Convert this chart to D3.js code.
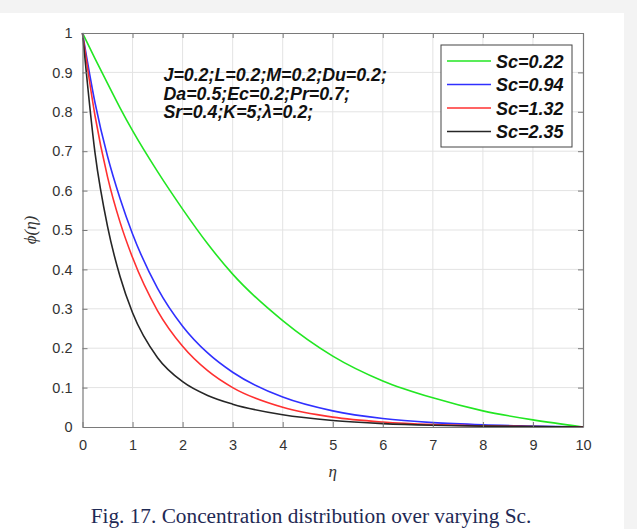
<!DOCTYPE html>
<html>
<head>
<meta charset="utf-8">
<script src="https://cdn.jsdelivr.net/npm/d3@7"></script>
<style>
  body { margin: 0; background: #ffffff; }
  text { font-family: "Liberation Sans", Arial, sans-serif; }
</style>
</head>
<body>
<div id="canvas"></div>
<script>
// values
const eta = [0, 0.25, 0.5, 0.75, 1, 1.5, 2, 2.5, 3, 4, 5, 6, 7, 8, 9, 10];
const sc022 = [1, 0.935, 0.872, 0.81, 0.752, 0.648, 0.553, 0.465, 0.388, 0.27, 0.18, 0.117, 0.074, 0.041, 0.018, 0];
const sc094 = [1, 0.823, 0.687, 0.58, 0.49, 0.352, 0.256, 0.188, 0.139, 0.076, 0.041, 0.0214, 0.011, 0.0055, 0.0025, 0];
const sc132 = [1, 0.79, 0.635, 0.52, 0.43, 0.295, 0.205, 0.143, 0.10, 0.05, 0.025, 0.0125, 0.006, 0.003, 0.0013, 0];
const sc235 = [1, 0.696, 0.509, 0.382, 0.29, 0.176, 0.115, 0.08, 0.058, 0.031, 0.0165, 0.0086, 0.0043, 0.0021, 0.001, 0];
const seriesNames = ["Sc=0.22", "Sc=0.94", "Sc=1.32", "Sc=2.35"];
const xTicks = [0, 1, 2, 3, 4, 5, 6, 7, 8, 9, 10];
const yTicks = [0, 0.1, 0.2, 0.3, 0.4, 0.5, 0.6, 0.7, 0.8, 0.9, 1];
const paramLines = ["J=0.2;L=0.2;M=0.2;Du=0.2;", "Da=0.5;Ec=0.2;Pr=0.7;", "Sr=0.4;K=5;\u03bb=0.2;"];
const caption = "Fig. 17. Concentration distribution over varying Sc.";

const colors = ["#22e622", "#3030ff", "#ff3030", "#262626"];
const seriesValues = [sc022, sc094, sc132, sc235];

const width = 637;
const height = 529;
const margin = { top: 33, left: 82.5, bottom: 102, right: 54 };
const iwidth = width - margin.left - margin.right;
const iheight = height - margin.top - margin.bottom;

const svg = d3.select("#canvas").append("svg")
    .attr("width", width)
    .attr("height", height);

// page background like the screenshot
svg.append("rect").attr("width", width).attr("height", height).attr("fill", "#f3f3f3");
svg.append("rect").attr("x", 0).attr("y", 13).attr("width", 624).attr("height", height - 13).attr("fill", "#ffffff");

const g = svg.append("g").attr("transform", `translate(${margin.left},${margin.top})`);

const x = d3.scaleLinear().domain([0, 10]).range([0, iwidth]);
const y = d3.scaleLinear().domain([0, 1]).range([iheight, 0]);

// grid
g.append("g").selectAll("line").data(xTicks.slice(1, -1)).enter().append("line")
    .attr("x1", d => x(d)).attr("x2", d => x(d))
    .attr("y1", 0).attr("y2", iheight)
    .attr("stroke", "#e3e3e3").attr("stroke-width", 1);
g.append("g").selectAll("line").data(yTicks.slice(1, -1)).enter().append("line")
    .attr("x1", 0).attr("x2", iwidth)
    .attr("y1", d => y(d)).attr("y2", d => y(d))
    .attr("stroke", "#e3e3e3").attr("stroke-width", 1);

// curves
const line = d3.line()
    .x((d, i) => x(eta[i]))
    .y(d => y(d))
    .curve(d3.curveMonotoneX);

seriesValues.forEach((vals, i) => {
    g.append("path")
        .datum(vals)
        .attr("fill", "none")
        .attr("stroke", colors[i])
        .attr("stroke-width", 1.6)
        .attr("d", line);
});

// axes (MATLAB style box with inward ticks)
const axisColor = "#7a7a7a";
function styleAxis(sel) {
    sel.select(".domain").attr("stroke", axisColor).attr("stroke-width", 1.2);
    sel.selectAll(".tick line").attr("stroke", axisColor);
    sel.selectAll(".tick text").attr("fill", "#333").style("font-size", "14.5px")
        .style("font-family", "'Liberation Sans', Arial, sans-serif");
}

g.append("g")
    .attr("transform", `translate(0,${iheight})`)
    .call(d3.axisBottom(x).tickValues(xTicks).tickFormat(d3.format("d")).tickSizeInner(-5).tickSizeOuter(0).tickPadding(13))
    .call(styleAxis);

g.append("g")
    .call(d3.axisLeft(y).tickValues(yTicks).tickFormat(d => d === 0 || d === 1 ? d3.format("d")(d) : d3.format(".1f")(d)).tickSizeInner(-5).tickSizeOuter(0).tickPadding(10))
    .call(styleAxis);

g.append("g")
    .call(d3.axisTop(x).tickValues(xTicks).tickFormat("").tickSizeInner(-5).tickSizeOuter(0))
    .call(styleAxis);

g.append("g")
    .attr("transform", `translate(${iwidth},0)`)
    .call(d3.axisRight(y).tickValues(yTicks).tickFormat("").tickSizeInner(-5).tickSizeOuter(0))
    .call(styleAxis);

// axis labels
g.append("text")
    .attr("x", x(5))
    .attr("y", iheight + 50)
    .attr("text-anchor", "middle")
    .style("font-family", "'Liberation Serif', 'Times New Roman', serif")
    .style("font-style", "italic")
    .style("font-size", "17px")
    .attr("fill", "#333")
    .text("\u03b7");

g.append("text")
    .attr("transform", `translate(${-47},${y(0.5)}) rotate(-90)`)
    .attr("text-anchor", "middle")
    .style("font-family", "'Liberation Serif', 'Times New Roman', serif")
    .style("font-style", "italic")
    .style("font-size", "17px")
    .attr("fill", "#333")
    .text("\u03d5(\u03b7)");

// parameter annotation
g.append("g").selectAll("text").data(paramLines).enter().append("text")
    .attr("x", 81)
    .attr("y", (d, i) => 48 + i * 18.7)
    .style("font-size", "17.8px")
    .style("font-weight", "bold")
    .style("font-style", "italic")
    .attr("fill", "#111")
    .text(d => d);

// legend
const legend = g.append("g").attr("transform", `translate(${441 - margin.left},${45 - margin.top})`);
legend.append("rect")
    .attr("width", 131).attr("height", 102)
    .attr("fill", "#fff")
    .attr("stroke", "#444").attr("stroke-width", 1);
seriesNames.forEach((name, i) => {
    const ly = 16 + i * 23.5;
    legend.append("line")
        .attr("x1", 6).attr("x2", 50)
        .attr("y1", ly).attr("y2", ly)
        .attr("stroke", colors[i]).attr("stroke-width", 1.6);
    legend.append("text")
        .attr("x", 55).attr("y", ly + 6.5)
        .style("font-size", "18px")
        .style("font-weight", "bold")
        .style("font-style", "italic")
        .attr("fill", "#111")
        .text(name);
});

// caption
svg.append("text")
    .attr("x", 311)
    .attr("y", 523)
    .attr("text-anchor", "middle")
    .style("font-family", "'Liberation Serif', 'Times New Roman', serif")
    .style("font-size", "21.3px")
    .attr("fill", "#1f2a55")
    .text(caption);
</script>
</body>
</html>
